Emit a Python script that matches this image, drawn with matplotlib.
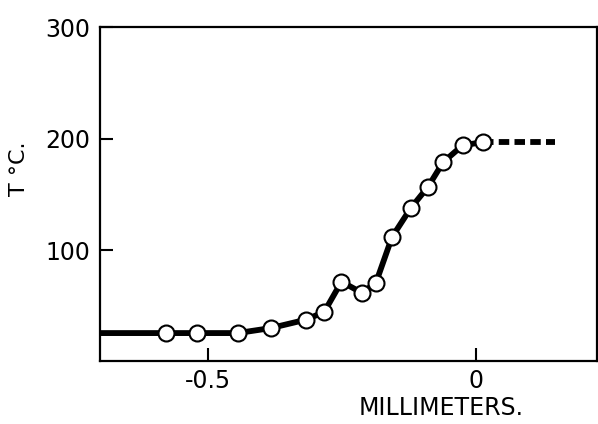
import matplotlib
matplotlib.use("Agg")
import matplotlib.pyplot as plt

# Temperature profile vs. distance (mm)
distance_mm = [-0.577, -0.520, -0.444, -0.382, -0.317, -0.283, -0.251, -0.213,
               -0.187, -0.157, -0.122, -0.090, -0.062, -0.026, 0.012]
temperature_c = [26, 26, 26, 30.5, 38, 45, 72, 62, 71, 112, 138, 157, 179, 194, 197]

# flat run-in from the left edge, and the dashed extrapolated plateau
lead_in_x = [-0.70]
lead_in_y = [26]
plateau_x = [0.012, 0.146]
plateau_y = [197, 197]

y_ticks = [100, 200, 300]
x_ticks = [-0.5, 0]
x_tick_labels = ["-0.5", "0"]

fig = plt.figure(figsize=(5.98, 4.24), dpi=100)
ax = fig.add_axes([0.1672, 0.1486, 0.8311, 0.7877])

ax.plot(lead_in_x + distance_mm, lead_in_y + temperature_c, color="black",
        lw=4.2, solid_joinstyle="round", solid_capstyle="butt", zorder=2)
ax.plot(plateau_x, plateau_y, color="black", lw=4.2,
        dashes=(1.8, 0.9), dash_capstyle="butt", zorder=1)
ax.plot(distance_mm, temperature_c, linestyle="none", marker="o",
        markersize=11.5, markerfacecolor="white", markeredgecolor="black",
        markeredgewidth=1.5, zorder=3)

ax.set_xlim(-0.70, 0.224)
ax.set_ylim(1, 300)

ax.set_xticks(x_ticks)
ax.set_xticklabels(x_tick_labels)
ax.set_yticks(y_ticks)

for s in ax.spines.values():
    s.set_linewidth(1.6)

ax.tick_params(direction="in", length=9.5, width=1.5, labelsize=17, pad=6)
ax.tick_params(axis="y", pad=7)

ax.set_xlabel("MILLIMETERS.", fontsize=17)
ax.xaxis.set_label_coords(0.686, -0.105)
ax.set_ylabel("T °C.", fontsize=16)
ax.yaxis.set_label_coords(-0.143, 0.575)

fig.savefig("out.png", dpi=100)
